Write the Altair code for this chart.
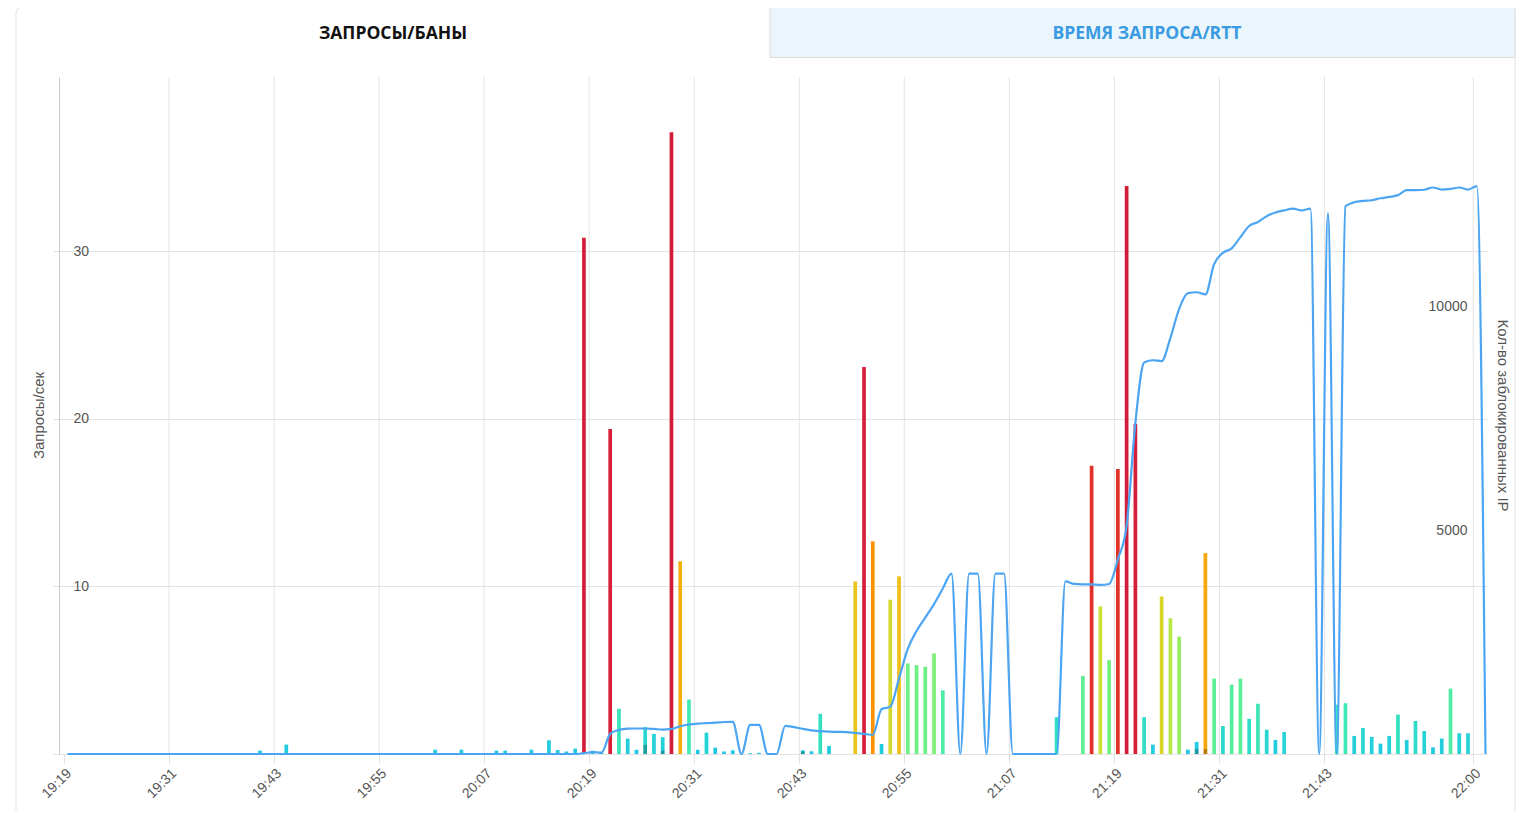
import altair as alt
import pandas as pd

# ---- data (minute index 0 = 19:19) ----
bar_minutes = [22, 25, 42, 45, 49, 50, 53, 55, 56, 57, 58, 59, 60, 61, 62, 63, 64, 65, 66, 67,
               68, 69, 70, 71, 72, 73, 74, 75, 76, 78, 79, 84, 85, 86, 87, 90, 91, 92, 93, 94,
               95, 96, 97, 98, 99, 100, 113, 116, 117, 118, 119, 120, 121, 122, 123, 124, 125,
               126, 127, 128, 129, 130, 131, 132, 133, 134, 135, 136, 137, 138, 139, 145, 146,
               147, 148, 149, 150, 151, 152, 153, 154, 155, 156, 157, 158, 159, 160]
bar_values = [0.2, 0.56, 0.26, 0.26, 0.2, 0.2, 0.26, 0.82, 0.24, 0.15, 0.32, 30.8, 0.2, 0.1, 19.4,
              2.7, 0.92, 0.25, 1.6, 1.2, 1.0, 37.1, 11.5, 3.25, 0.25, 1.27, 0.38, 0.15, 0.22,
              0.05, 0.07, 0.22, 0.16, 2.4, 0.48, 10.3, 23.1, 12.7, 0.6, 9.2, 10.6, 5.4, 5.3,
              5.2, 6.0, 3.8, 2.2, 4.66, 17.2, 8.8, 5.6, 17.0, 33.9, 19.7, 2.2, 0.56, 9.4, 8.1,
              7.0, 0.26, 0.72, 12.0, 4.5, 1.67, 4.14, 4.5, 2.1, 3.0, 1.45, 0.84, 1.31, 2.95,
              3.03, 1.08, 1.55, 1.02, 0.62, 1.08, 2.35, 0.84, 1.97, 1.37, 0.4, 0.92, 3.9, 1.24,
              1.24]

dark_minutes = [66, 68, 84, 129, 130]
dark_values = [0.55, 0.2, 0.15, 0.3, 0.3]

line_values = ([0] * 59 +
               [20, 40, 30, 450, 540, 565, 570, 570, 560, 545, 560, 620, 660, 680, 690, 700,
                715, 720, 0, 650, 650, 0, 0, 630, 600, 560, 530, 510, 500, 495, 490, 470, 450,
                430, 1000, 1060, 1690, 2350, 2750, 3050, 3350, 3700, 4030, 0, 4030, 4030, 0,
                4030, 4030, 0, 0, 0, 0, 0, 0, 3860, 3800, 3790, 3790, 3780, 3800, 4350, 5100,
                7400, 8750, 8800, 8780, 9300, 9950, 10300, 10320, 10270, 10950, 11200, 11300,
                11550, 11800, 11890, 12020, 12100, 12150, 12190, 12150, 12190, 0, 12080, 0,
                12240, 12330, 12360, 12375, 12420, 12450, 12490, 12600, 12600, 12610, 12660,
                12615, 12630, 12660, 12615, 12690, 0])

x_ticks = [0, 12, 24, 36, 48, 60, 72, 84, 96, 108, 120, 132, 144, 161]
x_grid = [12, 24, 36, 48, 60, 72, 84, 96, 108, 120, 132, 144, 161]
left_ticks = [0, 10, 20, 30]
right_ticks = [5000, 10000]

color_domain = [0, 1, 2, 3.5, 5, 7, 8.5, 9.5, 10.5, 12, 13, 16, 19, 40]
color_range = ["#1ec6e6", "#22cfdc", "#2edcc8", "#46ecae", "#66f08a", "#94f060", "#c2e63a",
               "#dcd226", "#ecc018", "#f6a60c", "#ff8a00", "#ea3a1e", "#d6203a", "#d01c3a"]

OFFSET = 0.4  # data timestamps sit ~24 s after the minute mark

bars = pd.DataFrame({"t": [m + OFFSET for m in bar_minutes], "v": bar_values})
dark = pd.DataFrame({"t": [m + OFFSET for m in dark_minutes], "v": dark_values})
line = pd.DataFrame({"t": [i + OFFSET for i in range(len(line_values))], "ips": line_values})
grid = pd.DataFrame({"t": x_grid})
one = pd.DataFrame({"a": [0]})

W, H = 1428, 677
FONT = "Liberation Sans"

x_enc = alt.X("t:Q", scale=alt.Scale(domain=[0, 162], nice=False, zero=False),
              axis=alt.Axis(values=x_ticks, title=None, labelAngle=-45,
                            labelExpr="timeFormat(datetime(2024, 0, 1, 19, 19 + datum.value), '%H:%M')",
                            labelFontSize=14, labelColor="#555", labelFont=FONT,
                            grid=False, tickColor="#e0e0e0", tickSize=9,
                            domain=False, labelPadding=3, labelOverlap=False, labelFlush=False))

y_left = alt.Y("v:Q", scale=alt.Scale(domain=[0, 40.4], nice=False),
               axis=alt.Axis(values=left_ticks, title="Запросы/сек",
                             labelExpr="datum.value == 0 ? '' : datum.label",
                             grid=True, gridColor="#e3e3e3", domain=True, domainColor="#c8c8c8",
                             ticks=True, tickColor="#e3e3e3", tickSize=6,
                             labelAlign="left", labelBaseline="middle", labelPadding=-20,
                             labelFontSize=14, labelColor="#555", labelFont=FONT,
                             titleX=-21, titleY=338, titleBaseline="middle",
                             titleFontSize=15, titleFontWeight="normal", titleColor="#555",
                             titleFont=FONT))

card = alt.Chart(one).mark_rect(fillOpacity=0, stroke="#e2e2e2", strokeWidth=1,
                                cornerRadius=5).encode(
    x=alt.value(-43), x2=alt.value(1456), y=alt.value(-69.5), y2=alt.value(780))

tab2 = alt.Chart(one).mark_rect(fill="#eaf5fc", stroke="#dcdcdc", strokeWidth=1).encode(
    x=alt.value(711), x2=alt.value(1456), y=alt.value(-69.5), y2=alt.value(-19.5))

tab1_text = alt.Chart(one).mark_text(text="ЗАПРОСЫ/БАНЫ", font="Open Sans", fontWeight="bold",
                                     fontSize=17.5, color="#111111").encode(
    x=alt.value(334), y=alt.value(-43.5))

tab2_text = alt.Chart(one).mark_text(text="ВРЕМЯ ЗАПРОСА/RTT", font="Open Sans",
                                     fontWeight="bold", fontSize=17.5, color="#3a9be2").encode(
    x=alt.value(1088), y=alt.value(-43.5))

grid_layer = alt.Chart(grid).mark_rule(color="#e3e3e3", strokeWidth=1).encode(
    x=x_enc)

bar_layer = alt.Chart(bars).mark_bar(size=3.7).encode(
    x=x_enc, y=y_left,
    color=alt.Color("v:Q", scale=alt.Scale(domain=color_domain, range=color_range,
                                           interpolate="rgb"), legend=None))

dark_layer = alt.Chart(dark).mark_bar(size=3.7, color="#000000", opacity=0.25).encode(
    x="t:Q", y="v:Q")

left_group = alt.layer(grid_layer, bar_layer, dark_layer)

line_layer = alt.Chart(line).mark_line(interpolate="monotone", color="#4ba5f2",
                                       strokeWidth=2.2).encode(
    x="t:Q",
    y=alt.Y("ips:Q", scale=alt.Scale(domain=[0, 15130], nice=False),
            axis=alt.Axis(values=right_ticks, orient="right", title="Кол-во заблокированных IP",
                          format="d",
                          grid=False, domain=False, ticks=False, tickSize=0,
                          labelAlign="right", labelBaseline="middle", labelPadding=-20,
                          labelFontSize=14, labelColor="#555", labelFont=FONT,
                          titleX=15, titleY=338, titleAngle=90, titleBaseline="middle",
                          titleFontSize=15, titleFontWeight="normal", titleColor="#555",
                          titleFont=FONT)))

chart = alt.layer(card, tab2, tab1_text, tab2_text, left_group, line_layer).resolve_scale(
    y="independent"
).properties(
    width=W, height=H,
    autosize=alt.AutoSizeParams(type="none"),
    padding={"left": 51, "top": 69, "right": 29, "bottom": 57},
    background="white",
).configure_view(stroke=None)

chart.save("out.html", embed_options={"renderer": "svg", "actions": False})
